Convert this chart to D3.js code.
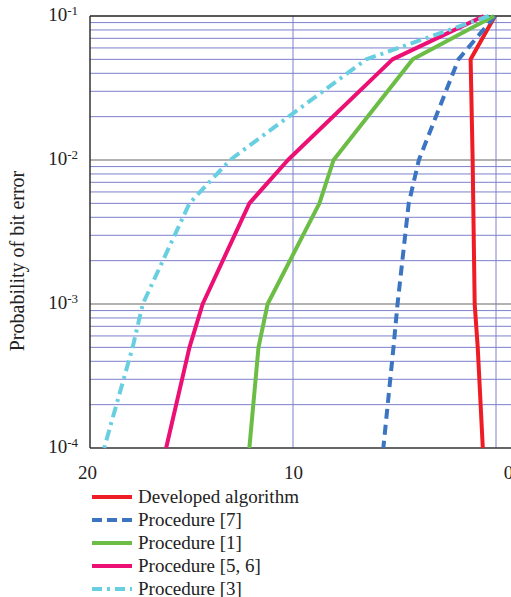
<!DOCTYPE html>
<html>
<head>
<meta charset="utf-8">
<script src="https://cdn.jsdelivr.net/npm/d3@7"></script>
<style>
  body { margin: 0; background: #fff; }
  text { font-family: "Liberation Serif", "Times New Roman", serif; fill: #222; }
</style>
</head>
<body>
<div id="chart"></div>
<script>
// probability levels shared by all series
let probs = [1e-1, 5e-2, 1e-2, 5e-3, 1e-3, 5e-4, 1e-4];

let developed = [0.05, 1.25, 1.15, 1.12, 1.05, 0.9, 0.65];
let proc7 = [0.05, 1.85, 3.8, 4.3, 4.85, 5.05, 5.55];
let proc1 = [0.1, 4.1, 8.0, 8.7, 11.25, 11.7, 12.15];
let proc56 = [0.6, 5.1, 10.25, 12.15, 14.45, 15.1, 16.25];
let proc3 = [0.35, 6.4, 13.1, 15.1, 17.4, 17.9, 19.3];

let seriesNames = ["Developed algorithm", "Procedure [7]", "Procedure [1]", "Procedure [5, 6]", "Procedure [3]"];
let seriesValues = [developed, proc7, proc1, proc56, proc3];
let colors = ["#ee1d25", "#3b74c1", "#6bbd45", "#ec0f74", "#68cfe0"];
let dashes = [null, "10,6", null, null, "11,5,3,5"];

let xTicks = [20, 10, 0];
let yTicks = [1e-1, 1e-2, 1e-3, 1e-4];
let yExps = ["-1", "-2", "-3", "-4"];

let W = 511, H = 597;
let plotLeft = 90, plotTop = 16, plotBottom = 448, plotRight = 496;

let x = d3.scaleLinear().domain([20, 0]).range([plotLeft, plotRight]);
let y = d3.scaleLog().domain([1e-4, 1e-1]).range([plotBottom, plotTop]);

let svg = d3.select("#chart").append("svg")
    .attr("width", W)
    .attr("height", H);

// horizontal minor grid
let minor = [];
[1e-4, 1e-3, 1e-2].forEach(function(d) {
    for (let k = 2; k <= 9; k++) minor.push(d * k);
});
svg.append("g").selectAll("line")
    .data(minor)
    .enter().append("line")
    .attr("x1", plotLeft).attr("x2", W)
    .attr("y1", function(d) { return y(d); })
    .attr("y2", function(d) { return y(d); })
    .attr("stroke", "#7c80cc")
    .attr("stroke-width", 1);

// decade lines
svg.append("g").selectAll("line")
    .data([1e-2, 1e-3])
    .enter().append("line")
    .attr("x1", plotLeft).attr("x2", W)
    .attr("y1", function(d) { return y(d); })
    .attr("y2", function(d) { return y(d); })
    .attr("stroke", "#999")
    .attr("stroke-width", 1.5);

// vertical grid
svg.append("g").selectAll("line")
    .data([10, 0])
    .enter().append("line")
    .attr("x1", function(d) { return x(d); })
    .attr("x2", function(d) { return x(d); })
    .attr("y1", plotTop).attr("y2", plotBottom)
    .attr("stroke", "#7c80cc")
    .attr("stroke-width", 1);

// frame
svg.append("line").attr("x1", plotLeft).attr("x2", W).attr("y1", plotTop).attr("y2", plotTop)
    .attr("stroke", "#222").attr("stroke-width", 1.5);
svg.append("line").attr("x1", plotLeft).attr("x2", W).attr("y1", plotBottom).attr("y2", plotBottom)
    .attr("stroke", "#333").attr("stroke-width", 1.5);
svg.append("line").attr("x1", plotLeft).attr("x2", plotLeft).attr("y1", plotTop).attr("y2", plotBottom)
    .attr("stroke", "#333").attr("stroke-width", 1.5);

// x axis
let xAxis = svg.append("g")
    .attr("transform", "translate(0," + plotBottom + ")")
    .call(d3.axisBottom(x).tickValues(xTicks).tickSize(0).tickPadding(18).tickFormat(d3.format("d")));
xAxis.select(".domain").remove();
xAxis.selectAll("text")
    .style("font-size", "19px")
    .style("font-family", "Liberation Serif, serif")
    .attr("fill", "#222")
    .attr("dx", function(d) { return d === 0 ? 12 : (d === 20 ? -3 : 0); });

// y axis
let yAxis = svg.append("g")
    .attr("transform", "translate(" + plotLeft + ",0)")
    .call(d3.axisLeft(y).tickValues(yTicks).tickSize(0).tickPadding(12).tickFormat(""));
yAxis.select(".domain").remove();
yAxis.selectAll(".tick text")
    .style("font-size", "19px")
    .style("font-family", "Liberation Serif, serif")
    .attr("fill", "#222")
    .attr("dy", "0.25em")
    .each(function(d, i) {
        let t = d3.select(this);
        t.append("tspan").text("10");
        t.append("tspan").attr("dy", "-0.45em").style("font-size", "13px").text(yExps[i]);
    });

// y title
svg.append("text")
    .attr("transform", "translate(24," + 261 + ") rotate(-90)")
    .style("text-anchor", "middle")
    .style("font-size", "20px")
    .text("Probability of bit error");

// series lines
let line = d3.line()
    .x(function(d) { return x(d[0]); })
    .y(function(d) { return y(d[1]); });

svg.append("g").selectAll("path")
    .data(seriesValues)
    .enter().append("path")
    .attr("d", function(vals) { return line(vals.map(function(v, i) { return [v, probs[i]]; })); })
    .attr("fill", "none")
    .attr("stroke", function(d, i) { return colors[i]; })
    .attr("stroke-width", 4)
    .attr("stroke-dasharray", function(d, i) { return dashes[i]; })
    .attr("stroke-linejoin", "round");

// legend
let legend = svg.append("g").attr("transform", "translate(92,497)");
let rows = legend.selectAll("g")
    .data(seriesNames)
    .enter().append("g")
    .attr("transform", function(d, i) { return "translate(0," + (i * 23) + ")"; });
rows.append("line")
    .attr("x1", 0).attr("x2", 40)
    .attr("stroke", function(d, i) { return colors[i]; })
    .attr("stroke-width", 4)
    .attr("stroke-dasharray", function(d, i) { return i === 1 ? "10,5" : (i === 4 ? "10,5,3,5" : null); });
rows.append("text")
    .attr("x", 46)
    .attr("dy", "0.33em")
    .style("font-size", "19px")
    .text(function(d) { return d; });
</script>
</body>
</html>
